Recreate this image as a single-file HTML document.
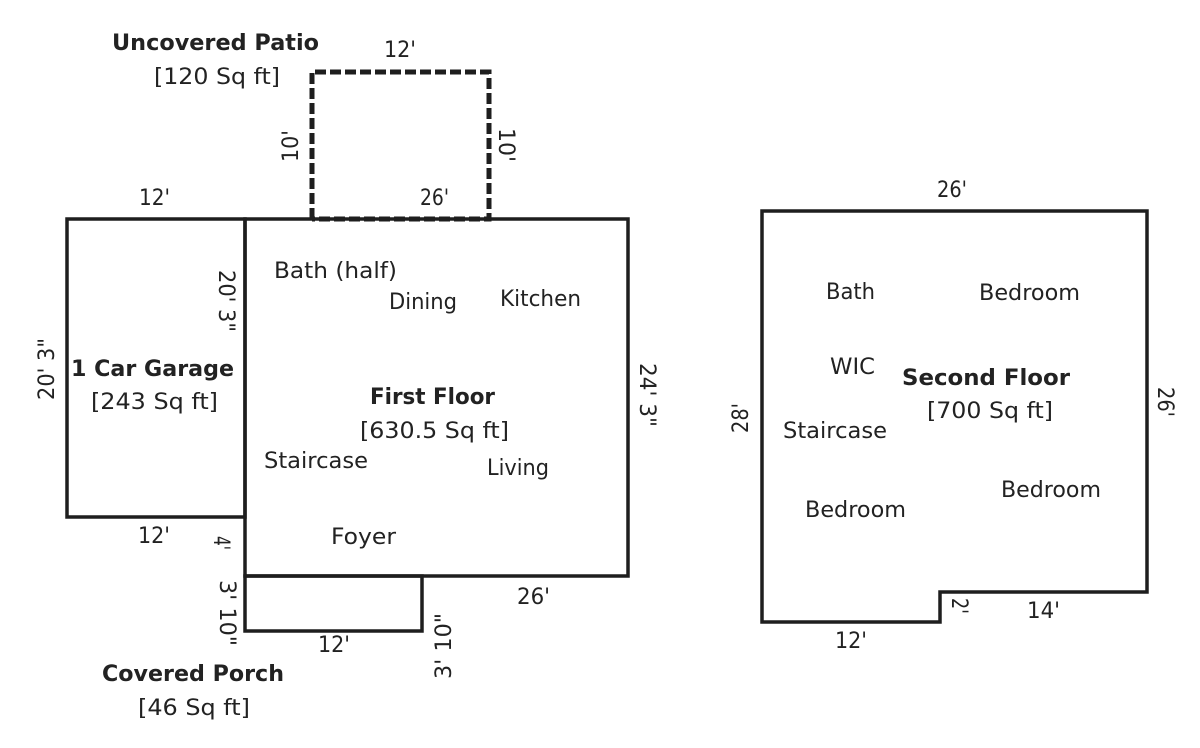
<!DOCTYPE html>
<html>
<head>
<meta charset="utf-8">
<style>
  html,body{margin:0;padding:0;background:#fff;}
  svg{display:block;}
  text{font-family:"DejaVu Sans","Liberation Sans",sans-serif;font-size:22px;fill:#222;}
  .b{font-weight:bold;}
</style>
</head>
<body>
<svg width="1200" height="748" viewBox="0 0 1200 748" xmlns="http://www.w3.org/2000/svg">
  <rect x="0" y="0" width="1200" height="748" fill="#fff"/>
  <g fill="none" stroke="#1e1e1e" stroke-width="3.5" stroke-linejoin="miter">
    <!-- Garage -->
    <rect x="67" y="219" width="178" height="298"/>
    <!-- First floor -->
    <rect x="245" y="219" width="383" height="357"/>
    <!-- Porch -->
    <rect x="245" y="576" width="177" height="55"/>
    <!-- Second floor -->
    <path d="M762 211 L1147 211 L1147 592 L940 592 L940 622 L762 622 Z"/>
  </g>
  <!-- Patio dashed -->
  <path d="M312 219 L312 72 L489 72 L489 219 L312 219" fill="none" stroke="#1e1e1e" stroke-width="5" stroke-dasharray="11 4" stroke-linejoin="miter"/>

  <!-- Patio labels -->
  <text class="b" x="112" y="50" textLength="207" lengthAdjust="spacingAndGlyphs">Uncovered Patio</text>
  <text x="154" y="84" textLength="126" lengthAdjust="spacingAndGlyphs">[120 Sq ft]</text>
  <text x="384" y="57" textLength="32" lengthAdjust="spacingAndGlyphs">12'</text>
  <text transform="translate(290,146) rotate(-90)" x="0" y="8" text-anchor="middle" textLength="32" lengthAdjust="spacingAndGlyphs">10'</text>
  <text transform="translate(507,145) rotate(90)" x="0" y="8" text-anchor="middle" textLength="34" lengthAdjust="spacingAndGlyphs">10'</text>

  <!-- Top dims -->
  <text x="139" y="205" textLength="31" lengthAdjust="spacingAndGlyphs">12'</text>
  <text x="420" y="205" textLength="29" lengthAdjust="spacingAndGlyphs">26'</text>

  <!-- Garage -->
  <text transform="translate(227,301) rotate(90)" x="0" y="8" text-anchor="middle" textLength="62" lengthAdjust="spacingAndGlyphs">20' 3"</text>
  <text transform="translate(46,369) rotate(-90)" x="0" y="8" text-anchor="middle" textLength="62" lengthAdjust="spacingAndGlyphs">20' 3"</text>
  <text class="b" x="71" y="376" textLength="163" lengthAdjust="spacingAndGlyphs">1 Car Garage</text>
  <text x="91" y="409" textLength="127" lengthAdjust="spacingAndGlyphs">[243 Sq ft]</text>
  <text x="138" y="543" textLength="32" lengthAdjust="spacingAndGlyphs">12'</text>

  <!-- First floor -->
  <text x="274" y="278" textLength="123" lengthAdjust="spacingAndGlyphs">Bath (half)</text>
  <text x="389" y="309" textLength="68" lengthAdjust="spacingAndGlyphs">Dining</text>
  <text x="500" y="306" textLength="81" lengthAdjust="spacingAndGlyphs">Kitchen</text>
  <text class="b" x="370" y="404" textLength="125" lengthAdjust="spacingAndGlyphs">First Floor</text>
  <text x="360" y="438" textLength="149" lengthAdjust="spacingAndGlyphs">[630.5 Sq ft]</text>
  <text x="264" y="468" textLength="104" lengthAdjust="spacingAndGlyphs">Staircase</text>
  <text x="487" y="475" textLength="62" lengthAdjust="spacingAndGlyphs">Living</text>
  <text x="331" y="544" textLength="65" lengthAdjust="spacingAndGlyphs">Foyer</text>
  <text transform="translate(648,395) rotate(90)" x="0" y="8" text-anchor="middle" textLength="64" lengthAdjust="spacingAndGlyphs">24' 3"</text>
  <text x="517" y="604" textLength="33" lengthAdjust="spacingAndGlyphs">26'</text>

  <!-- Porch -->
  <text transform="translate(222,543) rotate(90)" x="0" y="8" text-anchor="middle" textLength="14" lengthAdjust="spacingAndGlyphs">4'</text>
  <text transform="translate(228,613) rotate(90)" x="0" y="8" text-anchor="middle" textLength="66" lengthAdjust="spacingAndGlyphs">3' 10"</text>
  <text transform="translate(443,646) rotate(-90)" x="0" y="8" text-anchor="middle" textLength="66" lengthAdjust="spacingAndGlyphs">3' 10"</text>
  <text x="318" y="652" textLength="32" lengthAdjust="spacingAndGlyphs">12'</text>
  <text class="b" x="102" y="681" textLength="182" lengthAdjust="spacingAndGlyphs">Covered Porch</text>
  <text x="138" y="715" textLength="112" lengthAdjust="spacingAndGlyphs">[46 Sq ft]</text>

  <!-- Second floor -->
  <text x="937" y="197" textLength="30" lengthAdjust="spacingAndGlyphs">26'</text>
  <text x="826" y="299" textLength="49" lengthAdjust="spacingAndGlyphs">Bath</text>
  <text x="979" y="300" textLength="101" lengthAdjust="spacingAndGlyphs">Bedroom</text>
  <text x="830" y="374" textLength="45" lengthAdjust="spacingAndGlyphs">WIC</text>
  <text class="b" x="902" y="385" textLength="168" lengthAdjust="spacingAndGlyphs">Second Floor</text>
  <text x="927" y="418" textLength="126" lengthAdjust="spacingAndGlyphs">[700 Sq ft]</text>
  <text x="783" y="438" textLength="104" lengthAdjust="spacingAndGlyphs">Staircase</text>
  <text x="1001" y="497" textLength="100" lengthAdjust="spacingAndGlyphs">Bedroom</text>
  <text x="805" y="517" textLength="101" lengthAdjust="spacingAndGlyphs">Bedroom</text>
  <text transform="translate(740,418) rotate(-90)" x="0" y="8" text-anchor="middle" textLength="30" lengthAdjust="spacingAndGlyphs">28'</text>
  <text transform="translate(1166,402) rotate(90)" x="0" y="8" text-anchor="middle" textLength="30" lengthAdjust="spacingAndGlyphs">26'</text>
  <text transform="translate(960,606) rotate(90)" x="0" y="8" text-anchor="middle" textLength="16" lengthAdjust="spacingAndGlyphs">2'</text>
  <text x="1027" y="618" textLength="33" lengthAdjust="spacingAndGlyphs">14'</text>
  <text x="835" y="648" textLength="32" lengthAdjust="spacingAndGlyphs">12'</text>
</svg>
</body>
</html>
